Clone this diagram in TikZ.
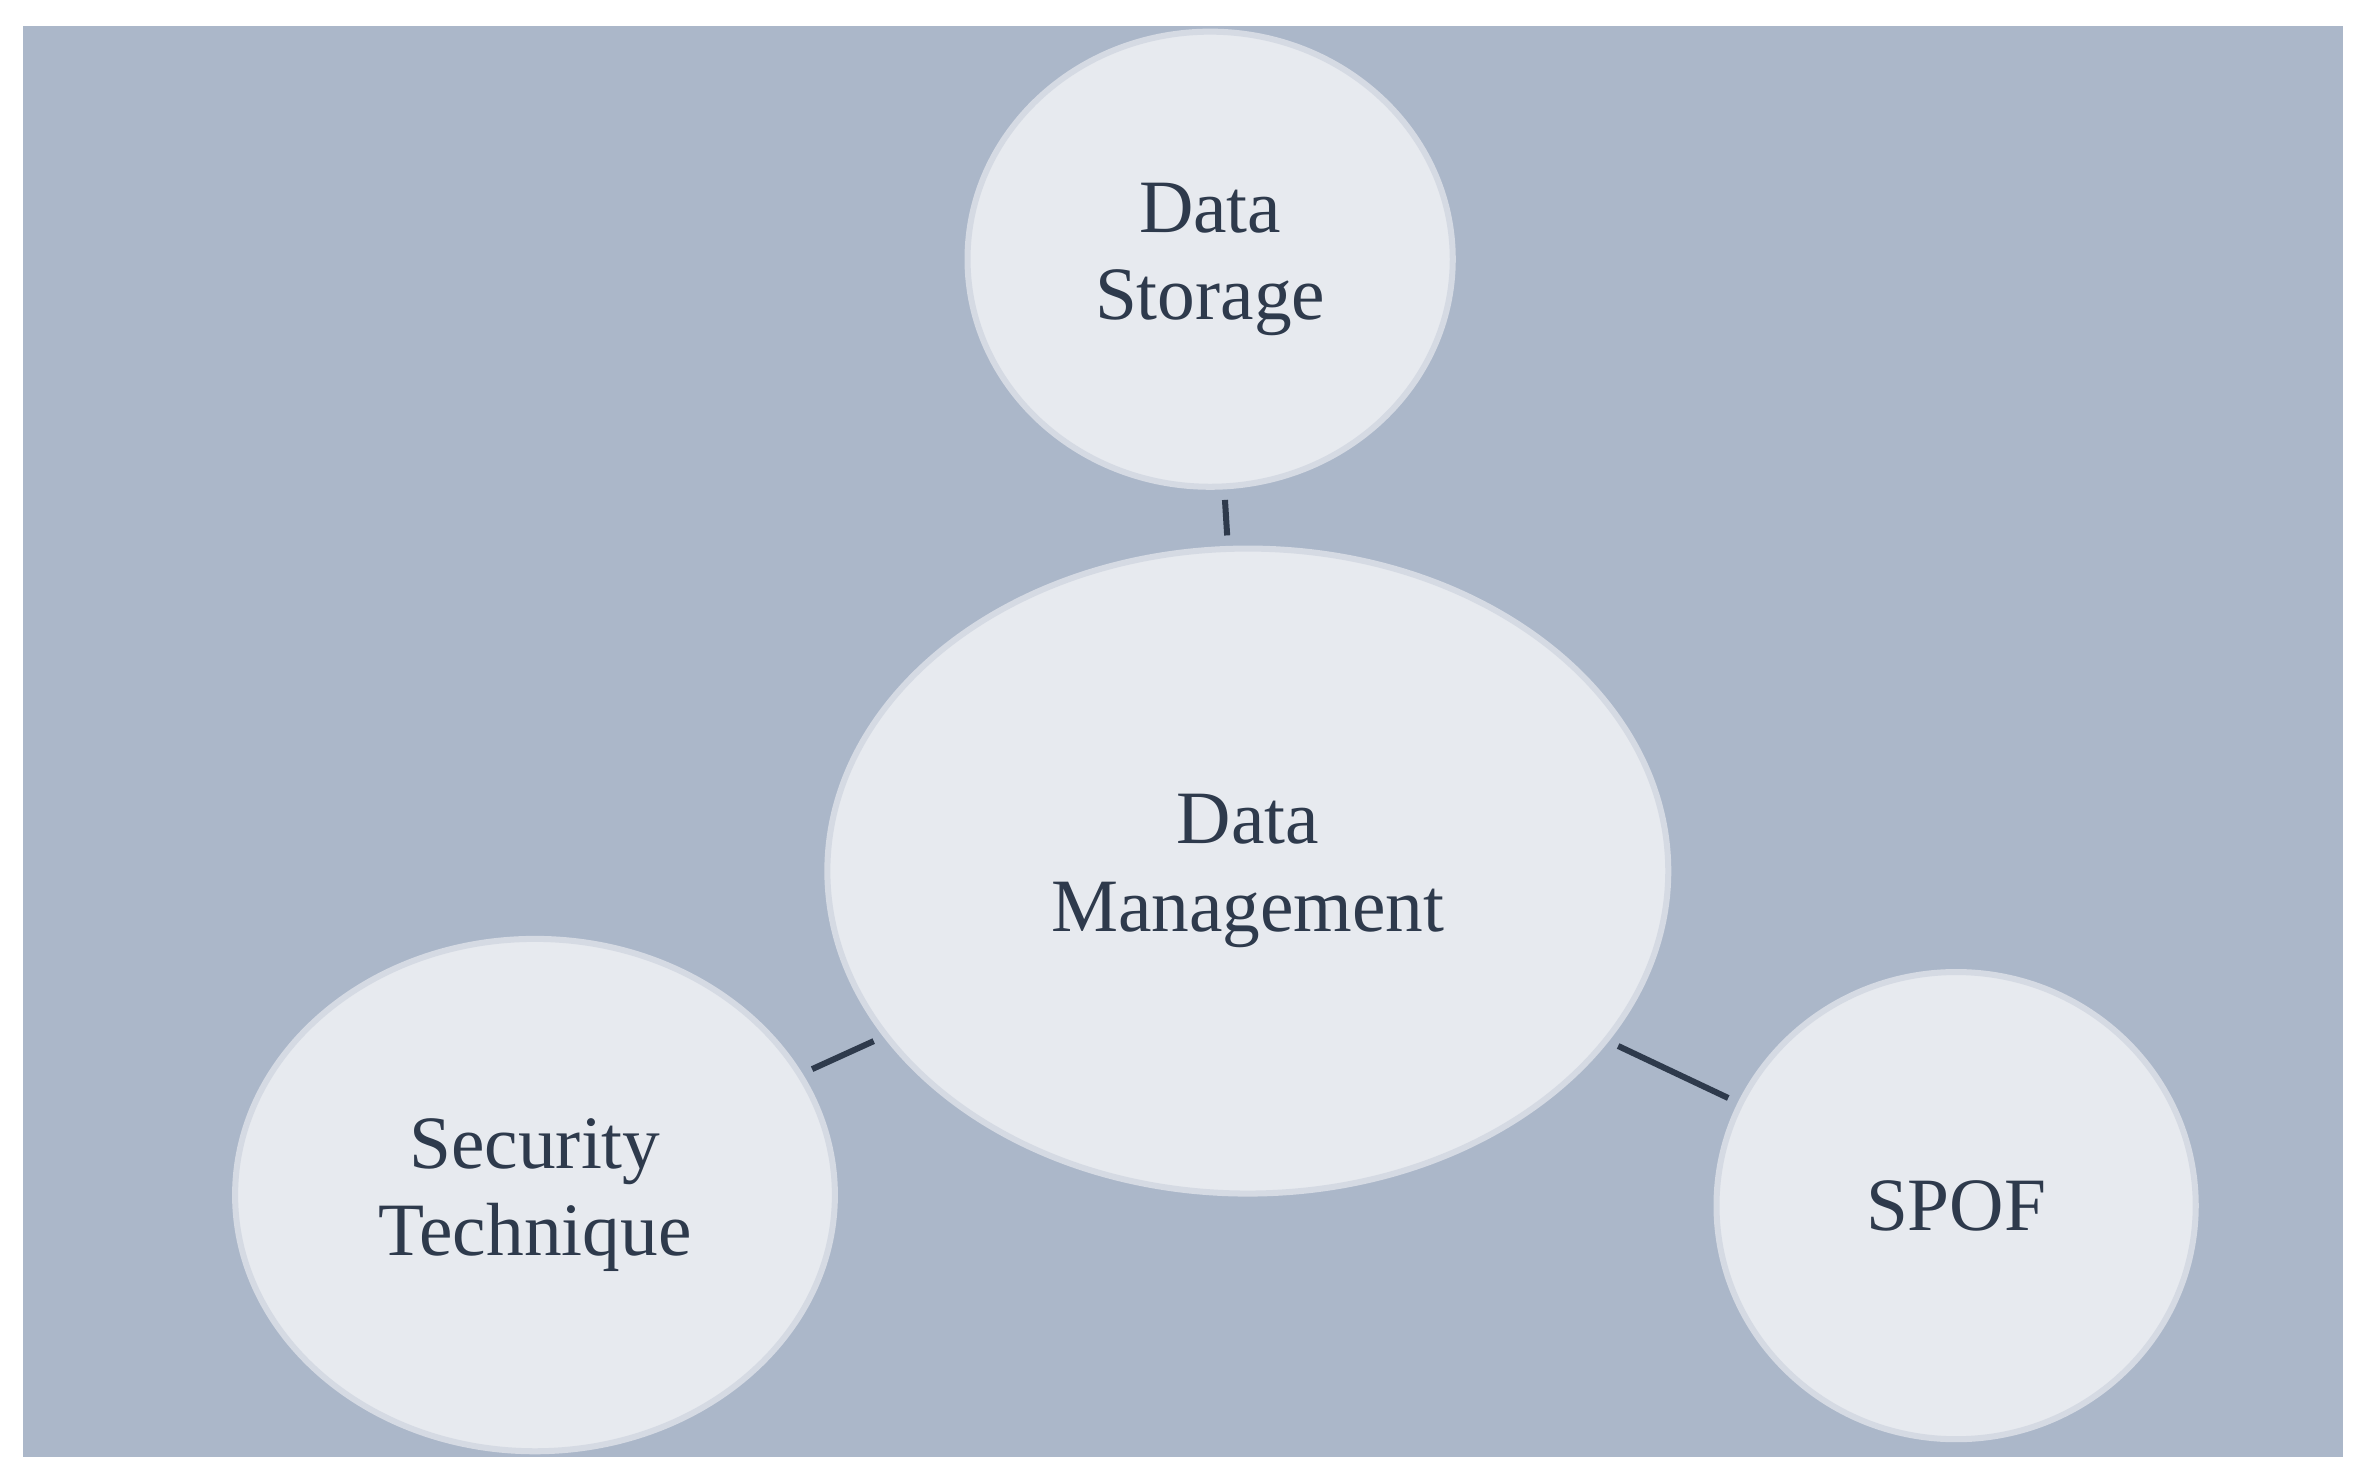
\documentclass[tikz,border=0pt]{standalone}
\usepackage{fontspec}
\setmainfont{Liberation Serif}
\usetikzlibrary{shapes.geometric}
\definecolor{bg}{HTML}{ABB7C9}
\definecolor{fillc}{HTML}{E7EAEF}
\definecolor{edgec}{HTML}{D5DAE3}
\definecolor{txt}{HTML}{2E3A4C}
\begin{document}
\begin{tikzpicture}[x=1pt,y=-1pt,
  bub/.style={ellipse,fill=fillc,draw=edgec,line width=4pt,text=txt,align=center,
    font=\fontsize{50}{58}\selectfont,inner sep=0pt},
  link/.style={draw=txt,line width=4pt,shorten >=7pt,shorten <=7pt}]
\useasboundingbox (0,0) rectangle (1568,983);
\fill[white] (0,0) rectangle (1568,983);
\fill[bg] (15,17) rectangle (1555,967);
\begin{scope}
\clip (15,17) rectangle (1555,967);
\node[bub,minimum width=322,minimum height=302] (ds) at (803,172) {Data\\Storage};
\node[bub,minimum width=558,minimum height=428] (dm) at (828,578) {Data\\Management};
\node[bub,minimum width=398,minimum height=340] (st) at (355,793) {Security\\Technique};
\node[bub,minimum width=318,minimum height=310] (sp) at (1298,800) {SPOF};
\draw[link] (ds) -- (dm);
\draw[link] (st) -- (dm);
\draw[link] (sp) -- (dm);
\end{scope}
\end{tikzpicture}
\end{document}
